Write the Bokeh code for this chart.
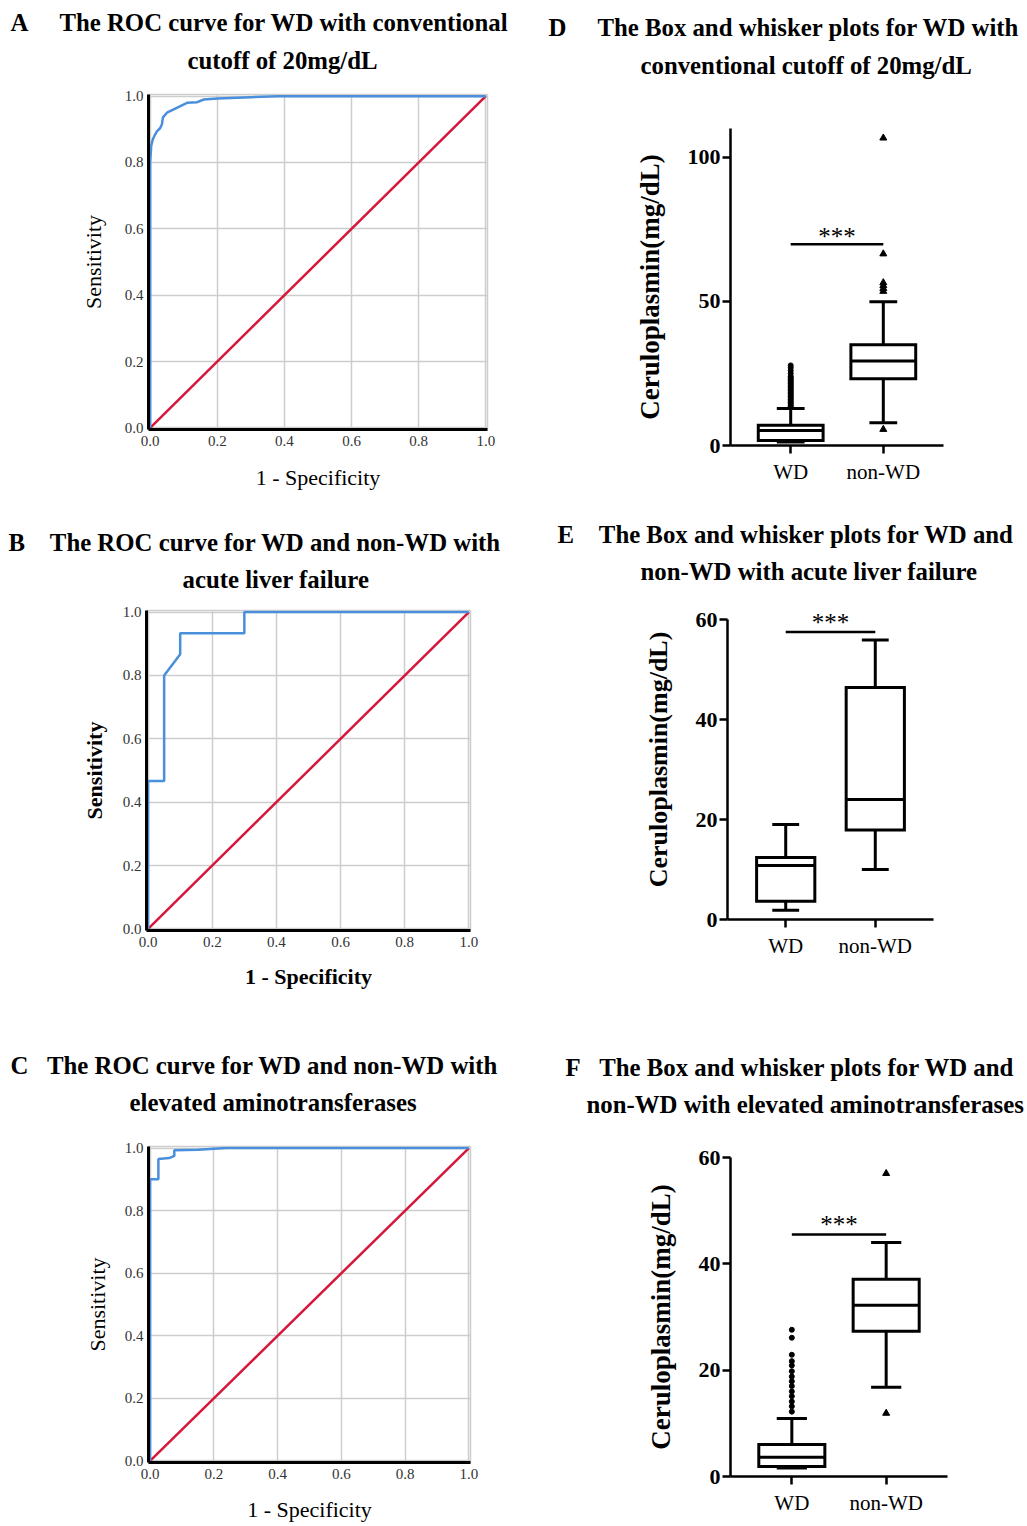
from bokeh.plotting import figure
from bokeh.layouts import column, row
from bokeh.models import Range1d, FactorRange, FixedTicker, PrintfTickFormatter, Title, ColumnDataSource
from bokeh.transform import dodge
from bokeh.embed import file_html
from bokeh.resources import INLINE
from bokeh.core.properties import value

FONT = "Liberation Serif"

# ---------------- data ----------------
roc_ticks = [0.0, 0.2, 0.4, 0.6, 0.8, 1.0]
ref_line = [0.0, 1.0]

rocA_fpr = [0, 0, 0.003, 0.008, 0.015, 0.02, 0.03, 0.035, 0.038, 0.05, 0.07, 0.09, 0.11, 0.14, 0.16, 0.2, 0.3, 0.38, 1.0]
rocA_tpr = [0, 0.80, 0.85, 0.87, 0.885, 0.894, 0.904, 0.915, 0.936, 0.95, 0.96, 0.97, 0.98, 0.982, 0.99, 0.993, 0.997, 1.0, 1.0]

rocB_fpr = [0, 0, 0.05, 0.05, 0.10, 0.10, 0.30, 0.30, 1.0]
rocB_tpr = [0, 0.467, 0.467, 0.80, 0.867, 0.933, 0.933, 1.0, 1.0]

rocC_fpr = [0, 0, 0.026, 0.026, 0.06, 0.076, 0.076, 0.15, 0.20, 0.24, 1.0]
rocC_tpr = [0, 0.90, 0.90, 0.965, 0.968, 0.975, 0.993, 0.995, 0.998, 1.0, 1.0]

groups = ["WD", "non-WD"]

D_q1 = [1.7, 23.2]
D_med = [5.2, 29.3]
D_q3 = [7.0, 35.0]
D_lo = [1.2, 7.9]
D_hi = [12.8, 49.9]
D_out_wd = [13.5, 14.0, 14.5, 15.0, 15.5, 16.0, 16.5, 17.0, 17.5, 18.0, 18.5, 19.0, 19.5,
            20.0, 20.5, 21.0, 21.5, 22.0, 22.5, 23.0, 23.5, 24.0, 25.0, 26.0, 27.0, 27.8]
D_out_non = [5.6, 53.5, 54.5, 55.5, 56.5, 66.5, 106.7]
D_sig = 69.8

E_q1 = [3.65, 17.9]
E_med = [10.8, 24.0]
E_q3 = [12.4, 46.4]
E_lo = [1.86, 10.0]
E_hi = [19.0, 55.9]
E_out_wd = []
E_out_non = []
E_sig = 57.5

F_q1 = [1.9, 27.3]
F_med = [3.6, 32.2]
F_q3 = [6.0, 37.1]
F_lo = [1.6, 16.8]
F_hi = [10.9, 44.0]
F_out_wd = [12.2, 13.2, 14.1, 15.1, 16.0, 17.0, 17.9, 18.8, 19.8, 20.9, 21.7, 22.9, 26.1, 27.6]
F_out_non = [11.9, 57.0]
F_sig = 45.5

D_ticks = [0, 50, 100]
EF_ticks = [0, 20, 40, 60]

BLUE = "#4a8fdc"
RED = "#d6173a"
GRID = "#cdcdcd"
TSIZE = "24.8px"
TH = 27.5
NB = "\u00a0"


def spacer(p, hgt):
    if hgt > 3.5:
        p.add_layout(Title(text=NB, text_font_size="1px", standoff=hgt - 3.1, vertical_align="top"), "above")


def add_titles(p, geom, letter, gap, x1, y1, line1, x2, y2, line2, size2=TSIZE):
    oy, F, fl = geom
    top0 = y1 - TH / 2
    s2 = max(0.0, 2 * (y2 - y1 - 2 - TH))
    bottom_sp = F - (top0 + 4 + 2 * TH + s2)
    spacer(p, bottom_sp)
    p.add_layout(Title(text=line2, text_font=FONT, text_font_size=size2, text_font_style="bold",
                       text_color="black", align="left", vertical_align="top",
                       standoff=s2, offset=x2 - fl), "above")
    p.add_layout(Title(text=letter + NB * gap + line1, text_font=FONT, text_font_size=TSIZE,
                       text_font_style="bold", text_color="black", align="left", vertical_align="top",
                       standoff=0, offset=x1 - fl), "above")
    spacer(p, top0 - oy)


def roc_fig(ox, oy, W, H, x0p, x1p, y1p, y0p, fpr, tpr, bold, xlab_standoff, ylab_standoff):
    pad = 0.005
    fl = round(x0p - pad * (x1p - x0p))
    fr = round(x1p + pad * (x1p - x0p))
    ft = round(y1p - pad * (y0p - y1p))
    fb = round(y0p + pad * (y0p - y1p))
    p = figure(width=W, height=H, min_border_left=fl - ox, min_border_right=ox + W - fr,
               min_border_top=ft - oy, min_border_bottom=oy + H - fb,
               x_range=Range1d(-pad, 1 + pad), y_range=Range1d(-pad, 1 + pad),
               output_backend="svg", toolbar_location=None)
    p.outline_line_color = GRID
    p.outline_line_width = 1.5
    for ax in (p.xaxis[0], p.yaxis[0]):
        ax.ticker = FixedTicker(ticks=roc_ticks)
        ax.formatter = PrintfTickFormatter(format="%.1f")
        ax.major_tick_line_color = None
        ax.major_tick_out = 0
        ax.major_tick_in = 0
        ax.minor_tick_line_color = None
        ax.minor_tick_out = 0
        ax.minor_tick_in = 0
        ax.axis_line_color = "black"
        ax.axis_line_width = 3
        ax.major_label_text_font = FONT
        ax.major_label_text_font_size = "15px"
        ax.major_label_text_color = "#333333"
        ax.axis_label_text_font = FONT
        ax.axis_label_text_font_size = "22px"
        ax.axis_label_text_font_style = "bold" if bold else "normal"
        ax.axis_label_text_color = "black"
    p.xaxis.major_label_standoff = 6
    p.yaxis.major_label_standoff = 5
    p.xaxis.axis_label = "1 - Specificity"
    p.yaxis.axis_label = "Sensitivity"
    p.xaxis.axis_label_standoff = xlab_standoff
    p.yaxis.axis_label_standoff = ylab_standoff
    for g in (p.xgrid[0], p.ygrid[0]):
        g.ticker = FixedTicker(ticks=roc_ticks)
        g.grid_line_color = GRID
        g.grid_line_width = 1.5
    p.line(ref_line, ref_line, line_color=RED, line_width=2.5)
    p.line(fpr, tpr, line_color=BLUE, line_width=2.5)
    return p, (oy, ft, fl)


def box_fig(ox, oy, W, H, fl, fr, axis_top_page, fb, ytop, yend, yticks, q1, med, q3, lo, hi,
            out_wd, out_non, sig, box_w, cap_w, ylab_size, star_off):
    ft = round(fb - (yend / ytop) * (fb - axis_top_page))
    p = figure(width=W, height=H, min_border_left=fl - ox, min_border_right=ox + W - fr,
               min_border_top=ft - oy, min_border_bottom=oy + H - fb,
               x_range=FactorRange(factors=groups, range_padding=0.15, range_padding_units="absolute"),
               y_range=Range1d(0, yend), output_backend="svg", toolbar_location=None)
    p.outline_line_color = None
    p.grid.visible = False
    p.yaxis.ticker = FixedTicker(ticks=yticks)
    p.yaxis.bounds = (0, ytop)
    for ax in (p.xaxis[0], p.yaxis[0]):
        ax.axis_line_color = "black"
        ax.axis_line_width = 2.5
        ax.major_tick_line_color = "black"
        ax.major_tick_line_width = 2.5
        ax.major_tick_out = 8
        ax.major_tick_in = 0
        ax.minor_tick_line_color = None
        ax.major_label_text_font = FONT
        ax.major_label_text_color = "black"
        ax.axis_label_text_font = FONT
        ax.axis_label_text_color = "black"
    p.yaxis.major_label_text_font_size = "22px"
    p.yaxis.major_label_text_font_style = "bold"
    p.yaxis.major_label_standoff = 2
    p.xaxis.major_label_text_font_size = "21px"
    p.xaxis.major_label_standoff = 6
    p.yaxis.axis_label = "Ceruloplasmin(mg/dL)"
    p.yaxis.axis_label_text_font_size = ylab_size
    p.yaxis.axis_label_text_font_style = "bold"
    p.yaxis.axis_label_standoff = 20

    src = ColumnDataSource(dict(cat=groups, q1=q1, med=med, q3=q3, lo=lo, hi=hi))
    lw = 3
    p.segment(x0="cat", x1="cat", y0="q3", y1="hi", source=src, line_color="black", line_width=lw)
    p.segment(x0="cat", x1="cat", y0="lo", y1="q1", source=src, line_color="black", line_width=lw)
    p.segment(x0=dodge("cat", -cap_w / 2, range=p.x_range), x1=dodge("cat", cap_w / 2, range=p.x_range),
              y0="hi", y1="hi", source=src, line_color="black", line_width=lw)
    p.segment(x0=dodge("cat", -cap_w / 2, range=p.x_range), x1=dodge("cat", cap_w / 2, range=p.x_range),
              y0="lo", y1="lo", source=src, line_color="black", line_width=lw)
    p.vbar(x="cat", top="q3", bottom="q1", width=box_w, source=src, fill_color="white",
           line_color="black", line_width=lw, line_join="miter")
    p.segment(x0=dodge("cat", -box_w / 2, range=p.x_range), x1=dodge("cat", box_w / 2, range=p.x_range),
              y0="med", y1="med", source=src, line_color="black", line_width=lw)
    if out_wd:
        p.scatter(x=["WD"] * len(out_wd), y=out_wd, marker="circle", size=5,
                  fill_color="black", line_color="black")
    if out_non:
        p.scatter(x=["non-WD"] * len(out_non), y=out_non, marker="triangle", size=7,
                  fill_color="black", line_color="black")
    p.segment(x0=["WD"], x1=["non-WD"], y0=[sig], y1=[sig], line_color="black", line_width=2.5)
    ssrc = ColumnDataSource(dict(cat=["WD"], y=[sig], t=["***"]))
    p.text(x=dodge("cat", 0.5, range=p.x_range), y="y", text="t", source=ssrc,
           text_font=value(FONT), text_font_size="25px", text_align="center",
           text_baseline="alphabetic", y_offset=star_off, text_color="black")
    return p, (oy, ft, fl)


# Panel A
pA, gA = roc_fig(0, 0, 538, 520, 150, 485, 96, 427, rocA_fpr, rocA_tpr, False, 16, 16)
add_titles(pA, gA, "A", 5, 10, 21, "The ROC curve for WD with conventional", 187, 60, "cutoff of 20mg/dL")

# Panel D
pD, gD = box_fig(538, 0, 487, 520, 730, 943, 128, 445, 110, 110, D_ticks, D_q1, D_med, D_q3, D_lo, D_hi,
                 D_out_wd, D_out_non, D_sig, 0.7, 0.3, "27px", -8)
add_titles(pD, gD, "D", 5, 548, 26, "The Box and whisker plots for WD with", 640, 65,
           "conventional cutoff of 20mg/dL")

# Panel B
pB, gB = roc_fig(0, 520, 538, 520, 148, 468, 612, 928, rocB_fpr, rocB_tpr, True, 14, 13)
add_titles(pB, gB, "B", 4, 8, 541, "The ROC curve for WD and non-WD with", 182, 579, "acute liver failure")

# Panel E
pE, gE = box_fig(538, 520, 487, 520, 727, 933, 619, 919, 60, 64, EF_ticks, E_q1, E_med, E_q3, E_lo, E_hi,
                 E_out_wd, E_out_non, E_sig, 0.65, 0.3, "26px", -10)
add_titles(pE, gE, "E", 4, 557, 533, "The Box and whisker plots for WD and", 640, 571,
           "non-WD with acute liver failure")

# Panel C
pC, gC = roc_fig(0, 1040, 538, 484, 150, 468, 1148, 1463, rocC_fpr, rocC_tpr, False, 15, 12)
add_titles(pC, gC, "C", 3, 10, 1064, "The ROC curve for WD and non-WD with", 129, 1102,
           "elevated aminotransferases")

# Panel F
pF, gF = box_fig(538, 1040, 487, 484, 730, 947, 1157, 1476, 60, 60, EF_ticks, F_q1, F_med, F_q3, F_lo, F_hi,
                 F_out_wd, F_out_non, F_sig, 0.7, 0.32, "27px", -10)
add_titles(pF, gF, "F", 3, 565, 1066, "The Box and whisker plots for WD and", 586, 1104,
           "non-WD with elevated aminotransferases")

layout = column(row(column(pA), column(pD)), row(column(pB), column(pE)), row(column(pC), column(pF)))
open("out.html", "w").write(file_html(layout, INLINE))
